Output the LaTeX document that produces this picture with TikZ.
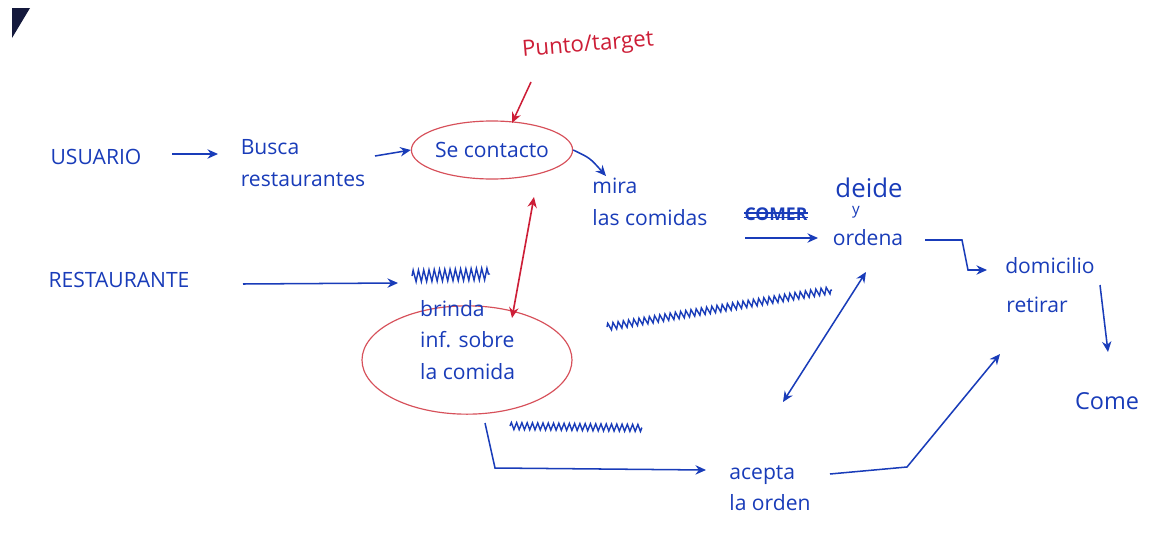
\documentclass[tikz,border=0pt]{standalone}
\usepackage{fontspec}
\setmainfont{Open Sans}
\usetikzlibrary{arrows.meta,shapes.geometric,decorations.pathmorphing}
\definecolor{ink}{RGB}{25,60,185}
\definecolor{redink}{RGB}{215,80,90}
\definecolor{redarrow}{RGB}{205,30,55}
\definecolor{corner}{RGB}{20,25,60}
\begin{document}
\begin{tikzpicture}[x=0.03cm,y=-0.03cm,
  txt/.style={text=ink, font=\fontsize{18}{27}\selectfont, inner sep=0pt, align=left},
  redtxt/.style={text=redarrow, font=\fontsize{19}{22}\selectfont, inner sep=0pt},
  flow/.style={draw=ink, line width=1.3pt, -{Stealth[length=9pt,width=8pt]}},
  twoway/.style={draw=ink, line width=1.3pt, {Stealth[length=9pt,width=8pt]}-{Stealth[length=9pt,width=8pt]}},
  redflow/.style={draw=redarrow, line width=1.3pt, -{Stealth[length=9pt,width=8pt]}},
  redtwoway/.style={draw=redarrow, line width=1.4pt, {Stealth[length=9pt,width=8pt]}-{Stealth[length=9pt,width=8pt]}},
  ring/.style={draw=redink, line width=1pt, ellipse, inner sep=0pt},
  scrib/.style={draw=ink, line width=1.2pt, decorate, decoration={zigzag, segment length=4.5pt, amplitude=3pt}}]
\useasboundingbox (0,0) rectangle (1162,558);
\fill[white] (0,0) rectangle (1162,558);
\fill[corner] (12,8) -- (30,8) -- (12,38) -- cycle;

% nodes
\node[txt] (usuario) at (96,157) {USUARIO};
\node[txt] (busca) at (303,163) {Busca\\restaurantes};
\node[ring, minimum width=4.25cm, minimum height=1.74cm, text=ink, font=\fontsize{18}{22}\selectfont] (contacto) at (492,150) {Se contacto};
\node[redtxt, rotate=5] (punto) at (588,46) {Punto/target};
\node[txt] (mira) at (650,202) {mira\\las comidas};
\node[txt, font=\fontsize{15}{18}\selectfont\bfseries] (comer) at (776,214) {COMER};
\draw[ink, line width=1.6pt] ([yshift=1pt]comer.west) -- ([yshift=1pt]comer.east) ([yshift=-3pt]comer.west) -- ([yshift=-3pt]comer.east);
\node[txt, font=\fontsize{22}{26}\selectfont] (decide) at (869,188) {deide};
\node[txt, font=\fontsize{13}{15}\selectfont] (yy) at (856,212) {y};
\node[txt] (ordena) at (868,238) {ordena};
\node[txt] (domicilio) at (1050,266) {domicilio};
\node[txt] (retirar) at (1037,305) {retirar};
\node[txt, font=\fontsize{20}{24}\selectfont] (come) at (1107,401) {Come};
\node[txt] (restaurante) at (119,280) {RESTAURANTE};
\node[ring, minimum width=6.3cm, minimum height=3.25cm] (brindaring) at (467,360) {};
\node[txt, anchor=north west] (brinda) at (420,300) {brinda\\inf. sobre\\la comida};
\node[txt] (acepta) at (770,488) {acepta\\la orden};

% connector end points
\coordinate (scribA) at (412,276);
\coordinate (scribB) at (490,274);
\coordinate (scribC) at (607,327);
\coordinate (scribD) at (832,290);
\coordinate (scribE) at (510,426);
\coordinate (scribF) at (642,428);
\coordinate (u1) at (172,154);
\coordinate (u2) at (218,154);
\coordinate (b1) at (375,156);
\coordinate (p1) at (531,82);
\coordinate (p2) at (512,123);
\coordinate (m1) at (606,176);
\coordinate (c1) at (745,238);
\coordinate (c2) at (818,238);
\coordinate (o1) at (925,240);
\coordinate (d1) at (987,270);
\coordinate (r1) at (1100,285);
\coordinate (k1) at (1108,352);
\coordinate (s1) at (243,284);
\coordinate (s2) at (398,283);
\coordinate (t1) at (534,197);
\coordinate (t2) at (512,318);
\coordinate (v1) at (866,272);
\coordinate (v2) at (783,402);
\coordinate (w1) at (485,423);
\coordinate (w2) at (706,470);
\coordinate (a1) at (830,474);
\coordinate (a2) at (1000,354);

% scribbles
\draw[scrib, decoration={amplitude=5pt}] (scribA) -- (scribB);
\draw[scrib] (scribC) -- (scribD);
\draw[scrib] (scribE) -- (scribF);

% connectors
\draw[flow] (u1) -- (u2);
\draw[flow] (b1) -- (contacto.west);
\draw[redflow] (p1) -- (p2);
\draw[flow] (contacto.east) .. controls (590,158) .. (m1);
\draw[flow] (c1) -- (c2);
\draw[flow] (o1) -- (962,240) -- (968,270) -- (d1);
\draw[flow] (r1) -- (k1);
\draw[flow] (s1) -- (s2);
\draw[redtwoway] (t1) -- (t2);
\draw[twoway] (v1) -- (v2);
\draw[flow] (w1) -- (495,468) -- (w2);
\draw[flow] (a1) -- (907,467) -- (a2);
\end{tikzpicture}
\end{document}
